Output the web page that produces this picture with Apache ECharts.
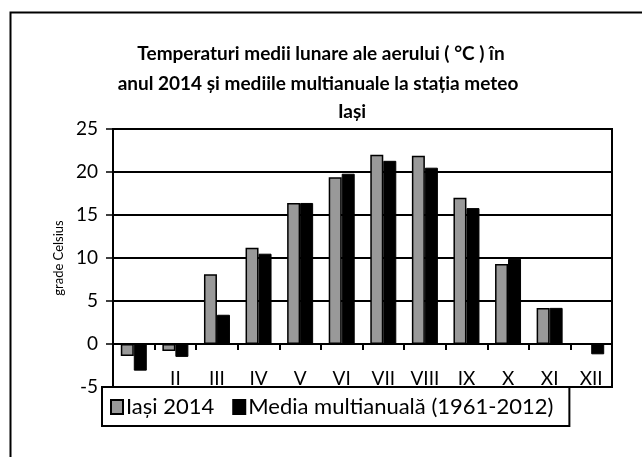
<!DOCTYPE html>
<html>
<head>
<meta charset="utf-8">
<script src="https://cdn.jsdelivr.net/npm/echarts@6/dist/echarts.min.js"></script>
<style>
  html, body { margin: 0; padding: 0; background: #fff; }
  #chart { width: 642px; height: 457px; }
</style>
</head>
<body>
<div id="chart"></div>
<script>
const months = ['I', 'II', 'III', 'IV', 'V', 'VI', 'VII', 'VIII', 'IX', 'X', 'XI', 'XII'];
const iasi2014 = [-1.4, -0.8, 8.1, 11.2, 16.4, 19.4, 22.0, 21.9, 17.0, 9.3, 4.2, 0];
const mediaMultianuala = [-3.1, -1.5, 3.4, 10.5, 16.4, 19.8, 21.3, 20.5, 15.8, 9.9, 4.2, -1.2];
const seriesNames = ['Iași 2014', 'Media multianuală (1961-2012)'];
const titleLines = ['Temperaturi medii lunare ale aerului ( °C ) în', 'anul 2014 și mediile multianuale la stația meteo', 'Iași'];
const yTicks = { min: -5, max: 25, interval: 5 };

const FONT = 'Lato';
const chart = echarts.init(document.getElementById('chart'), null, { renderer: 'canvas' });

const titleStyle = { fontFamily: FONT, fontWeight: 'bold', fontSize: 19, color: '#000' };

chart.setOption({
  backgroundColor: '#fff',
  animation: false,
  title: [
    { text: titleLines[0], left: 321, top: 44, textAlign: 'center', textStyle: titleStyle, padding: 0 },
    { text: titleLines[1], left: 318, top: 74, textAlign: 'center', textStyle: titleStyle, padding: 0 },
    { text: titleLines[2], left: 352, top: 102, textAlign: 'center', textStyle: titleStyle, padding: 0 }
  ],
  graphic: [
    {
      type: 'rect', left: 8, top: 10, z: -1,
      shape: { width: 700, height: 500 },
      style: { fill: 'none', stroke: '#000', lineWidth: 2 }
    }
  ],
  legend: {
    data: seriesNames,
    left: 102, top: 387,
    orient: 'horizontal',
    backgroundColor: '#fff',
    borderColor: '#000',
    borderWidth: 2,
    padding: [9, 16, 8, 8],
    itemWidth: 12, itemHeight: 14,
    itemGap: 18,
    icon: 'rect',
    textStyle: { fontFamily: FONT, fontSize: 22, color: '#000', padding: [0, 0, 0, -2] },
    z: 10
  },
  grid: {
    left: 113, right: 30, top: 129, bottom: 70,
    show: true, borderColor: '#000', borderWidth: 2, backgroundColor: 'transparent'
  },
  xAxis: [
    {
      type: 'category',
      data: months,
      axisLine: { onZero: true, lineStyle: { color: '#000', width: 2 } },
      axisTick: { show: false },
      axisLabel: {
        margin: -18,
        fontFamily: FONT, fontSize: 19, color: '#000',
        interval: function (i) { return i > 0; }
      },
      splitLine: { show: false }
    },
    {
      type: 'category',
      data: months,
      position: 'bottom',
      offset: -44,
      axisLine: { show: false, onZero: false },
      axisTick: { show: true, alignWithLabel: false, inside: false, length: 7, lineStyle: { color: '#000', width: 2 } },
      axisLabel: { show: false },
      splitLine: { show: false }
    }
  ],
  yAxis: {
    type: 'value',
    min: yTicks.min, max: yTicks.max, interval: yTicks.interval,
    name: 'grade Celsius',
    nameLocation: 'middle',
    nameGap: 46,
    nameRotate: 90,
    nameTextStyle: { fontFamily: FONT, fontSize: 13, color: '#000' },
    axisLine: { show: true, lineStyle: { color: '#000', width: 2 } },
    axisTick: { show: true, length: 7, lineStyle: { color: '#000', width: 1.5 } },
    axisLabel: { margin: 15, fontFamily: FONT, fontSize: 19, color: '#000' },
    splitLine: { show: true, lineStyle: { color: '#000', width: 2 } }
  },
  series: [
    {
      name: seriesNames[0],
      type: 'bar',
      data: iasi2014,
      barWidth: 13,
      barGap: '0%',
      itemStyle: { color: '#999999', borderColor: '#000', borderWidth: 1.5 }
    },
    {
      name: seriesNames[1],
      type: 'bar',
      data: mediaMultianuala,
      barWidth: 13,
      barGap: '0%',
      itemStyle: { color: '#000', borderColor: '#000', borderWidth: 1 }
    }
  ]
});
</script>
</body>
</html>
